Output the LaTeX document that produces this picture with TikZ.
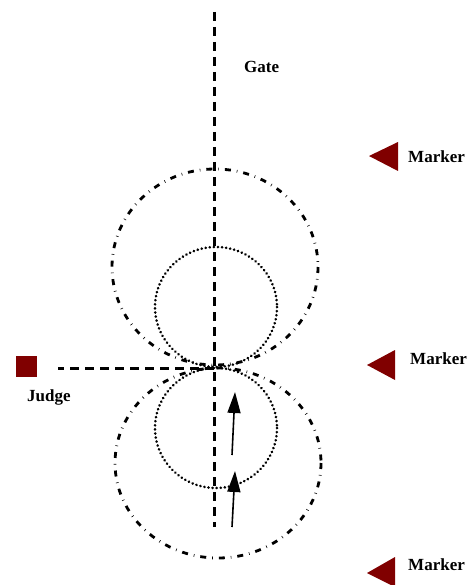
\documentclass[tikz,border=0pt]{standalone}
\usepackage{fontspec}
\setmainfont{Liberation Serif}
\usetikzlibrary{arrows.meta,positioning}
\definecolor{markred}{RGB}{128,0,0}
\begin{document}
\begin{tikzpicture}[x=1pt,y=-1pt,
                    lbl/.style={font=\fontsize{17}{19}\selectfont\bfseries, inner sep=0pt},
                    gateline/.style={line width=3pt, dash pattern=on 9pt off 6pt},
                    bigpath/.style={line width=2.8pt, dash pattern=on 6pt off 6pt on 0.6pt off 6pt},
                    smallpath/.style={line width=2.8pt, line cap=round, dash pattern=on 0.1pt off 4pt},
                    run/.style={line width=1.6pt, -{Triangle[length=21pt,width=13pt]}}]
                    \useasboundingbox (0, 0) rectangle (470, 585);

                    \coordinate (G0) at (214, 12);
                    \coordinate (G1) at (214, 527);
                    \coordinate (T) at (214, 368);
                    \coordinate (L) at (58, 368);

                    \coordinate (B0) at (215, 267);
                    \coordinate (B1) at (218, 463);
                    \coordinate (S0) at (216, 307);
                    \coordinate (S1) at (216, 428);

                    \coordinate (A0) at (232, 455);
                    \coordinate (A1) at (235, 392);
                    \coordinate (A2) at (232, 527);
                    \coordinate (A3) at (235, 471);

                    \coordinate (M0) at (369, 156);
                    \coordinate (M1) at (367, 365);
                    \coordinate (M2) at (367, 573);

                    \draw[gateline] (G0) -- (G1);
                    \draw[gateline, dash phase=3pt] (L) -- (T);

                    \draw[bigpath]   (B0) ellipse (103 and 98);
                    \draw[bigpath]   (B1) ellipse (103 and 95);
                    \draw[smallpath] (S0) ellipse (61 and 60);
                    \draw[smallpath] (S1) ellipse (61 and 60);

                    \draw[run] (A0) -- (A1);
                    \draw[run] (A2) -- (A3);

                    \node[lbl, anchor=base west] (gate) at (244, 73) {Gate};

                    \node[fill=markred, minimum size=21pt, inner sep=0pt] (judge) at (26.5, 366.5) {};
                    \node[lbl, anchor=base west] (judgetxt) at (27, 401) {Judge};

                    \fill[markred] (M0) -- ++(29, -14) -- ++(0, 29) -- cycle;
                    \fill[markred] (M1) -- ++(28, -15) -- ++(0, 30) -- cycle;
                    \fill[markred] (M2) -- ++(28, -16) -- ++(0, 30) -- cycle;

                    \node[lbl, anchor=base west] (mark0) at (408, 163) {Marker};
                    \node[lbl, anchor=base west] (mark1) at (410, 364) {Marker};
                    \node[lbl, anchor=base west] (mark2) at (408, 570) {Marker};

                \end{tikzpicture}
\end{document}
